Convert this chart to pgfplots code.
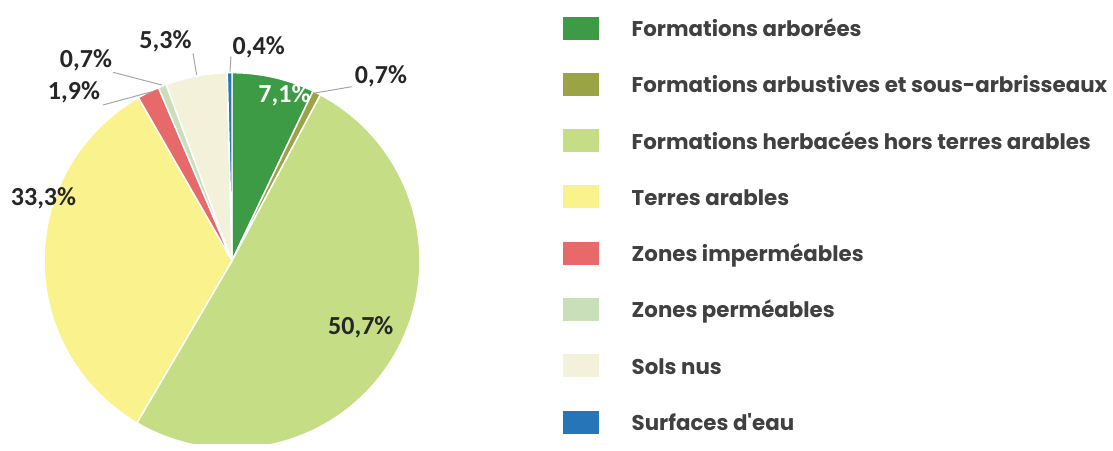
\documentclass[border=0pt]{standalone}
\usepackage{fontspec}
\setmainfont{Carlito}
\newfontfamily\legfont{Poppins}
\usepackage{pgfplots}
\usepackage{pgfplotstable}
\pgfplotsset{compat=1.18}

\definecolor{c0}{HTML}{3D9B45}
\definecolor{c1}{HTML}{9BA445}
\definecolor{c2}{HTML}{C5DD84}
\definecolor{c3}{HTML}{FAF28C}
\definecolor{c4}{HTML}{E8696A}
\definecolor{c5}{HTML}{C8DFBA}
\definecolor{c6}{HTML}{F3F1DA}
\definecolor{c7}{HTML}{2575B8}
\definecolor{legtext}{HTML}{404040}
\definecolor{labtext}{HTML}{262626}
\definecolor{leader}{HTML}{A6A6A6}

\tikzset{labl/.style={font=\bfseries\fontsize{19.5}{19.5}\selectfont, text=labtext, inner sep=0pt, text height=0.63em, text depth=0pt, anchor=center}}

\pgfplotstableread[col sep=comma]{
name,value
Formations arborées,7.1
Formations arbustives et sous-arbrisseaux,0.7
Formations herbacées hors terres arables,50.7
Terres arables,33.3
Zones imperméables,1.9
Zones perméables,0.7
Sols nus,5.3
Surfaces d'eau,0.4
}\piedata

\def\pietotal{0}
\pgfplotsforeachungrouped \i in {0,...,7}{%
  \pgfplotstablegetelem{\i}{value}\of\piedata
  \pgfmathsetmacro\pietotal{\pietotal+\pgfplotsretval}%
}
\def\piecum{0}
\pgfplotsforeachungrouped \i in {0,...,7}{%
  \pgfplotstablegetelem{\i}{value}\of\piedata
  \pgfmathsetmacro\pieA{90-\piecum/\pietotal*360}%
  \pgfmathsetmacro\piecum{\piecum+\pgfplotsretval}%
  \pgfmathsetmacro\pieB{90-\piecum/\pietotal*360}%
  \expandafter\xdef\csname pieA\i\endcsname{\pieA}%
  \expandafter\xdef\csname pieB\i\endcsname{\pieB}%
}

\def\cx{232}
\def\cy{182.3}
\def\rr{188}

\begin{document}
\begin{tikzpicture}
\begin{axis}[
  width=834.75pt, height=332.25pt, scale only axis,
  xmin=0, xmax=1113, ymin=0, ymax=443,
  hide axis, clip=true,
  legend style={at={(axis cs:563,443)}, anchor=north west, draw=none, fill=none,
    inner sep=0pt, outer sep=0pt, row sep=0pt, column sep=0pt,
    font=\legfont\bfseries\fontsize{16}{16}\selectfont, text=legtext,
    nodes={inner sep=0pt, anchor=base west, text height=27.35pt, text depth=14.85pt}},
  legend cell align=left,
  legend image code/.code={\fill[#1,draw=none] (0pt,-2.375pt) rectangle (27pt,14.875pt); \path (51pt,0pt);},
]
\path (rel axis cs:0,0) rectangle (rel axis cs:1,1);
\pgfplotsinvokeforeach{0,...,7}{
  \addplot[fill=c#1, draw=white, line width=1.1pt, line join=round,
    domain/.expanded={\csname pieB#1\endcsname:\csname pieA#1\endcsname}, samples=80]
    ({\cx+\rr*cos(x)}, {\cy+\rr*sin(x)}) -- (axis cs:\cx,\cy) -- cycle;
  \pgfplotstablegetelem{#1}{name}\of\piedata
  \addlegendentryexpanded{\pgfplotsretval}
}
% leader lines
\draw[leader, line width=0.75pt] (axis cs:230,371.3) -- (axis cs:231,386.3);
\draw[leader, line width=0.75pt] (axis cs:196.7,368) -- (axis cs:193,389.7);
\draw[leader, line width=0.75pt] (axis cs:161.7,358) -- (axis cs:113,370.7);
\draw[leader, line width=0.75pt] (axis cs:151.7,351.3) -- (axis cs:103,338);
\draw[leader, line width=0.75pt] (axis cs:313.3,349.7) -- (axis cs:351.7,356.3);
% data labels
\node[labl] at (axis cs:258.7,392.5) {0,4\%};
\node[labl] at (axis cs:165.5,398.5) {5,3\%};
\node[labl] at (axis cs:86,379.5) {0,7\%};
\node[labl] at (axis cs:74,348) {1,9\%};
\node[labl] at (axis cs:43.5,241.5) {33,3\%};
\node[labl, text=white] at (axis cs:284.5,345) {7,1\%};
\node[labl] at (axis cs:381,364) {0,7\%};
\node[labl] at (axis cs:360.8,112.3) {50,7\%};
\end{axis}
\end{tikzpicture}
\end{document}
